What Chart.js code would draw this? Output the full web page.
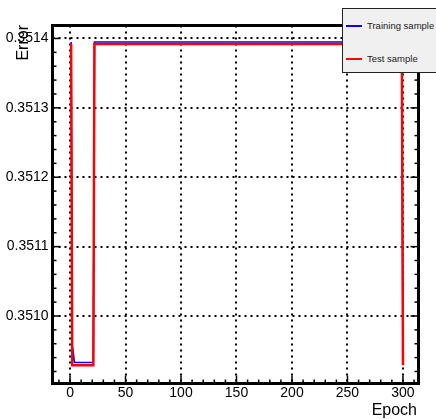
<!DOCTYPE html>
<html>
<head>
<meta charset="utf-8">
<script src="https://cdn.jsdelivr.net/npm/chart.js@4.4.0/dist/chart.umd.min.js"></script>
<style>
body { margin: 0; background: #fff; }
#wrap { position: relative; width: 436px; height: 419px; }
#legend {
    position: absolute; left: 342px; top: 8px; width: 100px; height: 65px;
    background: #f0f0f0; border: 1.5px solid #222; box-sizing: border-box;
    font-family: 'Liberation Sans', Arial, sans-serif; font-size: 9.5px; color: #222;
}
.entry { position: absolute; left: 3px; height: 12px; line-height: 12px; white-space: nowrap; }
.swatch { display: inline-block; width: 16px; height: 2px; vertical-align: middle; margin-right: 5px; }
</style>
</head>
<body>
<div id="wrap">
    <canvas id="chart" width="436" height="419"></canvas>
    <div id="legend"></div>
</div>
<script>
// Values (only the epochs where the curve changes)
const trainEpochs = [1, 2, 3, 4, 21, 22, 299, 300]
const trainError = [0.351395, 0.350933, 0.350947, 0.350933, 0.350933, 0.351395, 0.351395, 0.350933]
const testEpochs = [1, 2, 21, 22, 299, 300]
const testError = [0.351392, 0.350929, 0.350929, 0.351392, 0.351392, 0.350929]

const xTicks = [0, 50, 100, 150, 200, 250, 300]
const yTicks = [0.3510, 0.3511, 0.3512, 0.3513, 0.3514]

const font = "'Liberation Sans', Arial, sans-serif"

// Builds {x, y} points for the line datasets
function toPoints(xs, ys) {
    return xs.map((x, i) => ({ x: x, y: ys[i] }))
}

function line(ctx, x1, y1, x2, y2) {
    ctx.beginPath()
    ctx.moveTo(x1, y1)
    ctx.lineTo(x2, y2)
    ctx.stroke()
}

// Dotted grid, framed box with inward ticks, axis titles
const rootFrame = {
    id: 'rootFrame',
    beforeDatasetsDraw(chart) {
        const { ctx, chartArea: a, scales: { x, y } } = chart
        ctx.save()
        ctx.strokeStyle = '#000'
        ctx.lineWidth = 2
        ctx.setLineDash([2, 4])
        xTicks.forEach(v => {
            const px = Math.round(x.getPixelForValue(v))
            line(ctx, px, a.top, px, a.bottom)
        })
        yTicks.forEach(v => {
            const py = Math.round(y.getPixelForValue(v))
            line(ctx, a.left, py, a.right, py)
        })
        ctx.restore()
    },
    afterDatasetsDraw(chart) {
        const { ctx, chartArea: a, scales: { x, y } } = chart
        ctx.save()
        ctx.strokeStyle = '#000'
        ctx.lineWidth = 1.5

        // minor + major ticks on x (bottom)
        for (let v = -10; v <= 310; v += 10) {
            const px = x.getPixelForValue(v)
            const len = v % 50 === 0 ? 8 : 4
            line(ctx, px, a.bottom, px, a.bottom - len)
        }
        // minor + major ticks on y (left and right)
        for (let k = 0; k <= 24; k++) {
            const v = 0.35092 + k * 0.00002
            if (v > y.max) break
            const py = y.getPixelForValue(v)
            const len = k % 5 === 4 ? 8 : 4
            line(ctx, a.left, py, a.left + len, py)
            line(ctx, a.right, py, a.right - len, py)
        }

        ctx.lineWidth = 3
        ctx.strokeRect(a.left, a.top, a.right - a.left, a.bottom - a.top)

        ctx.fillStyle = '#000'
        ctx.font = `16px ${font}`
        ctx.textAlign = 'right'
        ctx.textBaseline = 'alphabetic'
        ctx.fillText('Epoch', 417, 415)

        ctx.translate(28, 25)
        ctx.rotate(-Math.PI / 2)
        ctx.fillText('Error', 0, 0)
        ctx.restore()
    }
}

const ctx = document.querySelector('#chart').getContext('2d')

const chart = new Chart(ctx, {
    type: 'line',
    data: {
        datasets: [
            {
                label: 'Training sample',
                data: toPoints(trainEpochs, trainError),
                borderColor: '#0000ff',
                borderWidth: 1.5,
                pointRadius: 0,
                tension: 0,
                order: 1
            },
            {
                label: 'Test sample',
                data: toPoints(testEpochs, testError),
                borderColor: '#ff0000',
                borderWidth: 2.5,
                pointRadius: 0,
                tension: 0,
                order: 0
            }
        ]
    },
    options: {
        responsive: false,
        animation: false,
        layout: { padding: { top: 25.5, right: 17.5, bottom: 0, left: 0 } },
        plugins: { legend: { display: false }, tooltip: { enabled: false } },
        scales: {
            x: {
                type: 'linear',
                min: -15.8,
                max: 314,
                grid: { display: false, drawTicks: false },
                border: { display: false },
                afterBuildTicks: scale => { scale.ticks = xTicks.map(v => ({ value: v })) },
                afterFit: scale => { scale.height = 35.5 },
                ticks: { color: '#000', padding: 1, maxRotation: 0, font: { family: font, size: 14 } }
            },
            y: {
                type: 'linear',
                min: 0.3509027,
                max: 0.3514187,
                grid: { display: false, drawTicks: false },
                border: { display: false },
                afterBuildTicks: scale => { scale.ticks = yTicks.map(v => ({ value: v })) },
                afterFit: scale => { scale.width = 52.5 },
                ticks: {
                    color: '#000', padding: 4, font: { family: font, size: 14 },
                    callback: v => v.toFixed(4)
                }
            }
        }
    },
    plugins: [rootFrame]
})

// Legend box (top right, cut by the page edge like the original)
const legend = document.querySelector('#legend')
const order = [0, 1]
const tops = [10.5, 43.5]
order.forEach((i, n) => {
    const ds = chart.data.datasets[i]
    let div = document.createElement('div')
    div.className = 'entry'
    div.style.top = `${tops[n]}px`
    let sw = document.createElement('span')
    sw.className = 'swatch'
    sw.style.backgroundColor = ds.borderColor
    div.appendChild(sw)
    let label = document.createElement('span')
    label.textContent = ds.label
    div.appendChild(label)
    legend.appendChild(div)
})
</script>
</body>
</html>
